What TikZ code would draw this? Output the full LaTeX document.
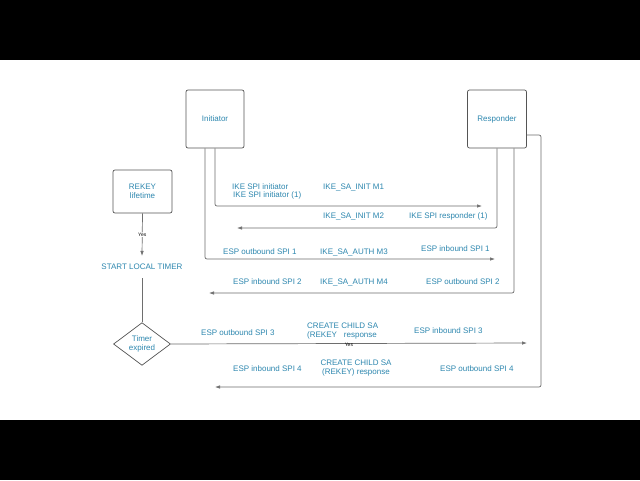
\documentclass[tikz,border=0pt]{standalone}
\usepackage{fontspec}
\setmainfont{Liberation Sans}
\usetikzlibrary{shapes.geometric}
\usetikzlibrary{arrows.meta}
\usetikzlibrary{positioning}

\definecolor{labelblue}{RGB}{45,135,175}
\definecolor{linegray}{RGB}{110,110,110}
\definecolor{boxgray}{RGB}{85,85,85}

\begin{document}
\begin{tikzpicture}[x=1pt, y=-1pt,
    lbl/.style={text=labelblue, font=\fontsize{8}{9}\selectfont, inner sep=1pt},
    party/.style={lbl, rectangle, draw=boxgray, line width=0.7pt, rounded corners=2pt, align=center},
    timerbox/.style={lbl, diamond, draw=boxgray, line width=0.7pt, align=center, inner sep=0pt, minimum width=57pt, minimum height=42pt},
    flow/.style={draw=linegray, line width=0.7pt, rounded corners=2pt, -{Latex[length=5pt, width=3.5pt]}},
    yes/.style={font=\fontsize{5}{6}\selectfont, text=black, inner sep=0.5pt}]
          % screen and page
          \fill[black] (0, 0) rectangle (640, 480);
          \fill[white] (0, 60) rectangle (640, 420);

          \node[party, minimum width=58pt, minimum height=58pt] (ini) at (215, 119) {Initiator};
          \node[party, minimum width=59pt, minimum height=58pt] (resp) at (497, 119) {Responder};
          \node[party, minimum width=59pt, minimum height=43pt] (rekey) at (142.5, 191.5) {REKEY\\lifetime};
          \node[lbl, inner ysep=8pt] (start) at (142, 267) {START LOCAL TIMER};
          \node[timerbox] (timer) at (142, 344) {Timer\\expired};

          % IKE_SA_INIT
          \node[lbl, anchor=west] (ispi) at (231, 187) {IKE SPI initiator};
          \node[lbl, anchor=west] (ispione) at (232, 195) {IKE SPI initiator (1)};
          \node[lbl, anchor=west] (mone) at (322, 187) {IKE\_SA\_INIT M1};
          \node[lbl, anchor=west] (mtwo) at (322, 216) {IKE\_SA\_INIT M2};
          \node[lbl, anchor=west] (rspione) at (408, 216) {IKE SPI responder (1)};

          % IKE_SA_AUTH
          \node[lbl, anchor=west] (outone) at (222, 252) {ESP outbound SPI 1};
          \node[lbl, anchor=west] (mthree) at (319, 252) {IKE\_SA\_AUTH M3};
          \node[lbl, anchor=west] (inone) at (420, 249) {ESP inbound SPI 1};
          \node[lbl, anchor=west] (intwo) at (232, 282) {ESP inbound SPI 2};
          \node[lbl, anchor=west] (mfour) at (319, 282) {IKE\_SA\_AUTH M4};
          \node[lbl, anchor=west] (outtwo) at (425, 282) {ESP outbound SPI 2};

          % CREATE CHILD SA
          \node[lbl, anchor=west] (outthree) at (200, 333) {ESP outbound SPI 3};
          \node[lbl, anchor=west, align=left] (childreq) at (306, 331.5) {CREATE CHILD SA\\(REKEY\hspace{7pt}response};
          \node[lbl, anchor=west] (inthree) at (413, 331) {ESP inbound SPI 3};
          \node[lbl, anchor=west] (infour) at (232, 369) {ESP inbound SPI 4};
          \node[lbl, align=center] (childresp) at (356, 368.5) {CREATE CHILD SA\\(REKEY) response};
          \node[lbl, anchor=west] (outfour) at (439, 369) {ESP outbound SPI 4};

          \coordinate (moneend) at (482, 206);
          \coordinate (mtwoend) at (237, 228);
          \coordinate (mthreeend) at (495, 259);
          \coordinate (mfourend) at (209, 293);
          \coordinate (childreqend) at (527, 343);
          \coordinate (childturn) at (541, 387);
          \coordinate (childrespend) at (215, 387);

          \draw[flow] (ini.south) |- (moneend);
          \draw[flow] (resp.south) |- (mtwoend);
          \draw[flow] ([xshift=-10pt]ini.south) |- (mthreeend);
          \draw[flow] ([xshift=17pt]resp.south) |- (mfourend);
          \draw[flow] ([yshift=-16pt]resp.east) -| (childturn) -- (childrespend);

          \draw[flow] (rekey.south) -- (start.north) node[yes, midway, fill=white] {Yes};
          \draw[flow, -] (start.south) -- (timer.north);
          \draw[flow] (timer.east) -- (childreqend) node[yes, midway, yshift=-1pt] {Yes};
        \end{tikzpicture}
\end{document}
